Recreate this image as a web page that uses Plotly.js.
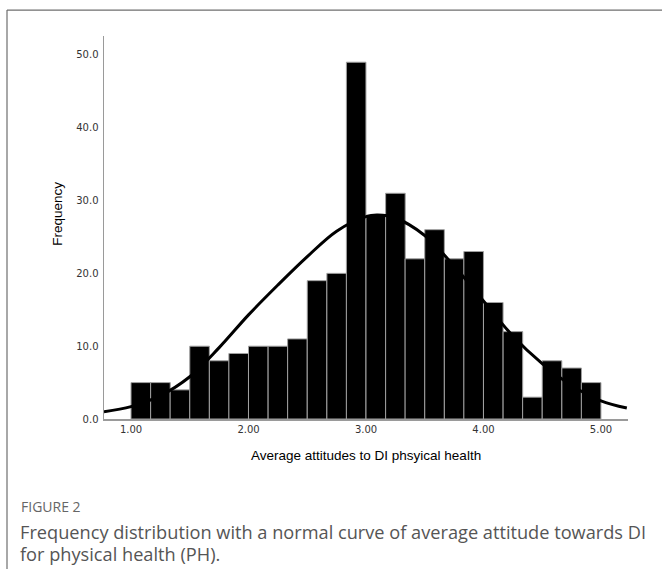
<!DOCTYPE html>
<html>
<head>
<meta charset="utf-8">
<script src="https://cdn.plot.ly/plotly-3.0.1.min.js"></script>
<style>
  html, body { margin: 0; padding: 0; background: #fff; }
  #chart { width: 662px; height: 569px; }
</style>
</head>
<body>
<div id="chart"></div>
<script>
// Histogram bins (lower edges) and frequencies
const binStart = [1.000, 1.167, 1.333, 1.500, 1.667, 1.833, 2.000, 2.167, 2.333, 2.500, 2.667, 2.833,
                  3.000, 3.167, 3.333, 3.500, 3.667, 3.833, 4.000, 4.167, 4.333, 4.500, 4.667, 4.833];
const frequency = [5, 5, 4, 10, 8, 9, 10, 10, 11, 19, 20, 49,
                   28, 31, 22, 26, 22, 23, 16, 12, 3, 8, 7, 5];

// Normal curve
const curveX = [0.77, 1.00, 1.25, 1.50, 1.75, 2.00, 2.25, 2.50, 2.75, 3.00, 3.10, 3.25,
                3.50, 3.75, 4.00, 4.25, 4.50, 4.75, 5.00, 5.22];
const curveY = [1.0, 1.7, 3.2, 5.8, 9.8, 14.3, 18.4, 22.3, 25.8, 27.8, 28.0, 27.6,
                25.2, 21.0, 16.2, 11.4, 7.6, 4.6, 2.5, 1.5];

// Tick labels
const xTickVals = [1, 2, 3, 4, 5];
const xTickText = ["1.00", "2.00", "3.00", "4.00", "5.00"];
const yTickVals = [0, 10, 20, 30, 40, 50];
const yTickText = ["0.0", "10.0", "20.0", "30.0", "40.0", "50.0"];

const xTitle = "Average attitudes to DI phsyical health";
const yTitle = "Frequency";
const figLabel = "FIGURE 2";
const captionLines = ["Frequency distribution with a normal curve of average attitude towards DI",
                      "for physical health (PH)."];

// Plot area in pixels
const W = 662, H = 569;
const L = 104, R = 628, T = 36, B = 419.5;
const px = x => (x - L) / (R - L);
const py = y => (B - y) / (B - T);

const traces = [
  {
    type: "bar",
    x: binStart,
    y: frequency,
    width: 1 / 6,
    offset: 0,
    marker: { color: "#000000", line: { color: "#a0a0a0", width: 1 } },
    hoverinfo: "x+y",
    showlegend: false
  },
  {
    type: "scatter",
    mode: "lines",
    x: curveX,
    y: curveY,
    line: { color: "#000000", width: 3, shape: "spline", smoothing: 1 },
    showlegend: false
  }
];

const layout = {
  width: W, height: H,
  margin: { l: L, r: W - R, t: T, b: H - B },
  paper_bgcolor: "#ffffff",
  plot_bgcolor: "#ffffff",
  showlegend: false,
  bargap: 0,
  xaxis: {
    range: [0.77, 5.23],
    tickvals: xTickVals, ticktext: xTickText,
    ticks: "", showgrid: false, zeroline: false,
    showline: true, linecolor: "#9a9a9a", linewidth: 1.5,
    tickfont: { family: "DejaVu Sans", size: 10, color: "#333333" },
    fixedrange: true
  },
  yaxis: {
    range: [0, 52.6],
    tickvals: yTickVals, ticktext: yTickText,
    ticks: "", showgrid: false, zeroline: false,
    showline: true, linecolor: "#9a9a9a", linewidth: 1.5,
    tickfont: { family: "DejaVu Sans", size: 10, color: "#333333" },
    ticklabelstandoff: 2,
    fixedrange: true
  },
  shapes: [
    { type: "line", xref: "paper", yref: "paper", x0: px(7), x1: px(700), y0: py(10), y1: py(10),
      line: { color: "#6e6e6e", width: 1.2 } },
    { type: "line", xref: "paper", yref: "paper", x0: px(7), x1: px(7), y0: py(10), y1: py(600),
      line: { color: "#6e6e6e", width: 1.2 } }
  ],
  annotations: [
    { xref: "paper", yref: "paper", x: px(366), y: py(456), xanchor: "center", yanchor: "middle",
      text: xTitle, showarrow: false,
      font: { family: "Liberation Sans", size: 13.5, color: "#000000" } },
    { xref: "paper", yref: "paper", x: px(58), y: py(214), xanchor: "center", yanchor: "middle",
      text: yTitle, textangle: -90, showarrow: false,
      font: { family: "Liberation Sans", size: 13.5, color: "#000000" } },
    { xref: "paper", yref: "paper", x: px(19), y: py(507), xanchor: "left", yanchor: "middle",
      text: figLabel, showarrow: false,
      font: { family: "Open Sans", size: 14, color: "#666666" } },
    { xref: "paper", yref: "paper", x: px(18), y: py(533), xanchor: "left", yanchor: "middle",
      text: captionLines[0], showarrow: false,
      font: { family: "Open Sans", size: 18.2, color: "#555555" } },
    { xref: "paper", yref: "paper", x: px(18), y: py(555), xanchor: "left", yanchor: "middle",
      text: captionLines[1], showarrow: false,
      font: { family: "Open Sans", size: 18.2, color: "#555555" } }
  ]
};

Plotly.newPlot("chart", traces, layout, { displayModeBar: false, staticPlot: true });
</script>
</body>
</html>
